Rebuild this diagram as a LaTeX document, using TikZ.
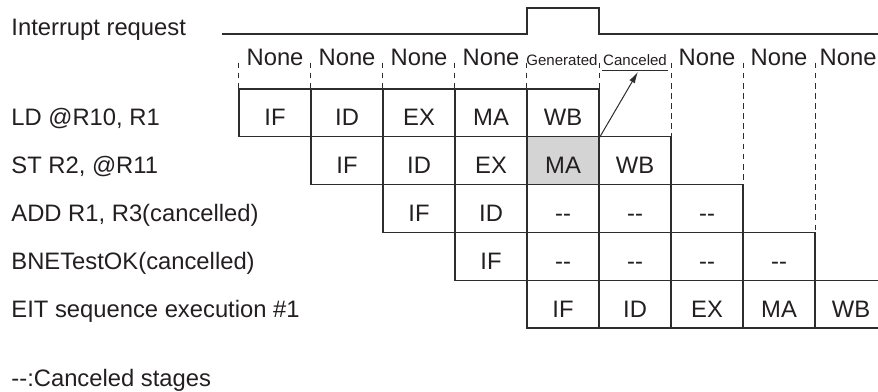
\documentclass[tikz,border=0pt]{standalone}
\usepackage{fontspec}
\setmainfont{Liberation Sans}
\usepackage{tikz}
\usetikzlibrary{arrows.meta,positioning,calc}
\definecolor{lineGray}{RGB}{45, 45, 45}
\definecolor{textGray}{RGB}{35, 31, 32}
\definecolor{maFill}  {RGB}{212,212,212}
\newcommand{\bigf}{\fontsize{18.8}{22}\selectfont}
\newcommand{\smallf}{\fontsize{11.9}{14}\selectfont}
\newcommand{\cxl}{\mbox{-}\mbox{-}}

\begin{document}
\begin{tikzpicture}[
          every node/.style={text=textGray},
          stage/.style={draw=lineGray,line width=0.9pt,minimum width=2cm,
                        minimum height=1.328cm,inner sep=0pt,
                        text height=0.72cm,text depth=0pt,font=\bigf},
          hitma/.style={stage,fill=maFill},
          instr/.style={anchor=west,inner sep=0pt,text height=0.72cm,
                        text depth=0pt,font=\bigf},
          slot/.style={anchor=base,inner sep=0pt,font=\bigf},
          sslot/.style={anchor=base,inner sep=0pt,font=\smallf},
          divider/.style={draw=lineGray,line width=0.9pt,
                          dash pattern=on 4.5pt off 3.5pt},
        ]
        \useasboundingbox (0,0) rectangle (24.389,10.889);

        % INTERRUPT REQUEST
        \node[anchor=base west,inner sep=0pt,font=\bigf] (irq) at (0.31,9.889)
          {Interrupt request};
        \draw[lineGray,line width=0.9pt] (6.167,9.944) -- (14.64,9.944)
          -- (14.64,10.667) -- (16.64,10.667) -- (16.64,9.944) -- (24.6,9.944);

        % STATE PER SLOT
        \node[slot]  (n1) at (7.64,9.083)  {None};
        \node[slot]  (n2) at (9.64,9.083)  {None};
        \node[slot]  (n3) at (11.64,9.083) {None};
        \node[slot]  (n4) at (13.64,9.083) {None};
        \node[sslot] (gen) at (15.61,9.083) {Generated};
        \node[sslot,inner xsep=1pt,inner ysep=0.14cm] (cancl) at (17.64,9.083)
          {Canceled};
        \node[slot]  (n7) at (19.64,9.083) {None};
        \node[slot]  (n8) at (21.64,9.083) {None};
        \node[slot]  (n9) at (23.56,9.083) {None};
        \coordinate (dtop) at (0,9.15);

        % INSTRUCTIONS
        \node[instr] (ild)  at (0.31,7.753) {LD @R10, R1};
        \node[instr] (ist)  at (0.31,6.425) {ST R2, @R11};
        \node[instr] (iadd) at (0.31,5.097) {ADD R1, R3(cancelled)};
        \node[instr] (ibne) at (0.31,3.769) {BNETestOK(cancelled)};
        \node[instr] (ieit) at (0.31,2.441) {EIT sequence execution \#1};

        % PIPELINE
        \node[stage] (ld1) at (7.64,7.753)  {IF};
        \node[stage] (ld2) at (9.64,7.753)  {ID};
        \node[stage] (ld3) at (11.64,7.753) {EX};
        \node[stage] (ld4) at (13.64,7.753) {MA};
        \node[stage] (ld5) at (15.64,7.753) {WB};

        \node[stage] (st1) at (9.64,6.425)  {IF};
        \node[stage] (st2) at (11.64,6.425) {ID};
        \node[stage] (st3) at (13.64,6.425) {EX};
        \node[hitma] (st4) at (15.64,6.425) {MA};
        \node[stage] (st5) at (17.64,6.425) {WB};

        \node[stage] (add1) at (11.64,5.097) {IF};
        \node[stage] (add2) at (13.64,5.097) {ID};
        \node[stage] (add3) at (15.64,5.097) {\cxl};
        \node[stage] (add4) at (17.64,5.097) {\cxl};
        \node[stage] (add5) at (19.64,5.097) {\cxl};

        \node[stage] (bne1) at (13.64,3.769) {IF};
        \node[stage] (bne2) at (15.64,3.769) {\cxl};
        \node[stage] (bne3) at (17.64,3.769) {\cxl};
        \node[stage] (bne4) at (19.64,3.769) {\cxl};
        \node[stage] (bne5) at (21.64,3.769) {\cxl};

        \node[stage] (eit1) at (15.64,2.441) {IF};
        \node[stage] (eit2) at (17.64,2.441) {ID};
        \node[stage] (eit3) at (19.64,2.441) {EX};
        \node[stage] (eit4) at (21.64,2.441) {MA};
        \node[stage] (eit5) at (23.64,2.441) {WB};

        % slot borders
        \draw[divider] (ld1.north west |- dtop) -- (ld1.north west);
        \draw[divider] (ld2.north west |- dtop) -- (ld2.north west);
        \draw[divider] (ld3.north west |- dtop) -- (ld3.north west);
        \draw[divider] (ld4.north west |- dtop) -- (ld4.north west);
        \draw[divider] (ld5.north west |- dtop) -- (ld5.north west);
        \draw[divider] (ld5.north east |- dtop) -- (ld5.north east);
        \draw[divider] (st5.north east |- dtop) -- (st5.north east);
        \draw[divider] (add5.north east |- dtop) -- (add5.north east);
        \draw[divider] (bne5.north east |- dtop) -- (bne5.north east);

        % cancel marker
        \draw[lineGray,line width=0.9pt] (cancl.south west) -- (cancl.south east);
        \draw[-{Latex[length=9pt,width=5pt]},lineGray,line width=0.8pt]
          (ld5.south east) -- ([xshift=0.08cm,yshift=-0.04cm]cancl.south);

        \node[anchor=base west,inner sep=0pt,font=\bigf] (legend) at (0.31,0.139)
          {\cxl:Canceled stages};
      \end{tikzpicture}
\end{document}
